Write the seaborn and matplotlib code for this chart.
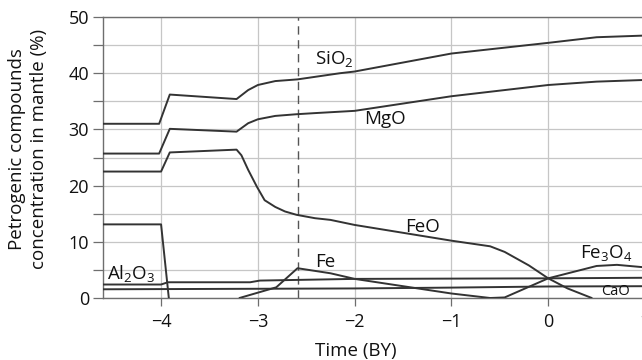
import numpy as np
import pandas as pd
import matplotlib
matplotlib.use("Agg")
import matplotlib.pyplot as plt
import seaborn as sns

# Time axis in billions of years; concentrations in percent
sio2_t = [-4.6, -4.02, -3.91, -3.22, -3.1, -3.0, -2.82, -2.59, -2.15, -2.0, -1.5, -1.0, 0.0, 0.5, 1.0]
sio2_v = [31.0, 31.0, 36.2, 35.4, 37.0, 37.9, 38.6, 38.9, 40.0, 40.3, 41.9, 43.5, 45.4, 46.4, 46.7]

mgo_t = [-4.6, -4.02, -3.91, -3.22, -3.1, -3.0, -2.82, -2.6, -2.41, -2.0, -1.5, -1.0, 0.0, 0.5, 1.0]
mgo_v = [25.7, 25.7, 30.1, 29.6, 31.1, 31.8, 32.4, 32.7, 32.9, 33.3, 34.6, 35.9, 37.9, 38.5, 38.8]

feo_t = [-4.6, -4.0, -3.91, -3.22, -3.17, -3.1, -3.01, -2.93, -2.82, -2.72, -2.6, -2.41,
         -2.25, -2.0, -1.0, -0.6, -0.45, -0.2, 0.0, 0.2, 0.45]
feo_v = [22.5, 22.5, 25.9, 26.4, 25.4, 22.8, 19.8, 17.4, 16.2, 15.4, 14.8, 14.2,
         13.9, 13.0, 10.2, 9.2, 8.2, 5.8, 3.5, 1.7, 0.0]

fe_early_t = [-4.6, -4.0, -3.92]
fe_early_v = [13.1, 13.1, 0.0]

fe_t = [-3.19, -2.81, -2.59, -2.25, -2.0, -1.0, -0.6]
fe_v = [0.0, 1.9, 5.3, 4.4, 3.4, 0.8, 0.0]

fe3o4_t = [-0.6, -0.45, 0.0, 0.5, 0.71, 1.0]
fe3o4_v = [0.0, 0.1, 3.5, 5.7, 5.9, 5.45]

al2o3_t = [-4.6, -4.0, -3.93, -3.08, -2.98, -2.0, -1.0, 0.0, 1.0]
al2o3_v = [2.4, 2.4, 2.8, 2.8, 3.1, 3.4, 3.45, 3.5, 3.6]

cao_t = [-4.6, -2.0, -1.0, 0.0, 1.0]
cao_v = [1.55, 1.7, 1.85, 2.05, 2.1]

series = {
    "SiO2": (sio2_t, sio2_v),
    "MgO": (mgo_t, mgo_v),
    "FeO": (feo_t, feo_v),
    "Fe early": (fe_early_t, fe_early_v),
    "Fe": (fe_t, fe_v),
    "Fe3O4": (fe3o4_t, fe3o4_v),
    "Al2O3": (al2o3_t, al2o3_v),
    "CaO": (cao_t, cao_v),
}

frames = [pd.DataFrame({"time": t, "conc": v, "compound": name})
          for name, (t, v) in series.items()]
df = pd.concat(frames, ignore_index=True)

x_ticks = [-4, -3, -2, -1, 0, 1]
y_ticks = [0, 10, 20, 30, 40, 50]
boundary_time = -2.59

sns.set_theme(style="white")
plt.rcParams["font.family"] = ["Open Sans", "DejaVu Sans"]
plt.rcParams["mathtext.fontset"] = "custom"
plt.rcParams["mathtext.rm"] = "Open Sans"

line_col = "#333333"
grid_col = "#c6c6c6"
frame_col = "#6e6e6e"

fig = plt.figure(figsize=(6.42, 3.6), dpi=100)
ax = fig.add_axes([103 / 642, 1 - 298 / 360, 542 / 642, 281 / 360])

sns.lineplot(data=df, x="time", y="conc", units="compound", estimator=None,
             color=line_col, linewidth=1.4, sort=False, ax=ax, zorder=3)

ax.axvline(boundary_time, color="#555555", linewidth=1.0, dashes=(6, 4), zorder=2)

ax.set_xlim(-4.6, 1.0)
ax.set_ylim(0, 50)
ax.set_xticks(x_ticks)
ax.set_xticklabels([f"{v}".replace("-", "\u2212") for v in x_ticks])
ax.set_yticks(y_ticks)
ax.set_yticks(np.arange(5, 50, 10), minor=True)
ax.grid(True, which="both", color=grid_col, linewidth=0.9, zorder=0)
ax.set_axisbelow(True)

ax.tick_params(axis="x", which="major", direction="out", length=6, width=0.9,
               color=frame_col, pad=5, labelsize=13, labelcolor="#111111", bottom=True)
ax.tick_params(axis="y", which="both", direction="out", length=7, width=0.9,
               color=frame_col, pad=3, labelsize=13, labelcolor="#111111", left=True)

for side in ["left", "top", "bottom"]:
    ax.spines[side].set_color(frame_col)
    ax.spines[side].set_linewidth(1.0)
ax.spines["right"].set_visible(False)

ax.set_xlabel("")
ax.set_ylabel("")

fig.text(356 / 642, 1 - 351 / 360, "Time (BY)", ha="center", va="center",
         fontsize=13.5, color="#111111")
fig.text(28 / 642, 1 - 149 / 360, "Petrogenic compounds\nconcentration in mantle (%)",
         rotation=90, ha="center", va="center", multialignment="center",
         fontsize=13.5, color="#111111", linespacing=1.3)

lab = dict(fontsize=13.5, color="#111111", va="baseline", ha="left", zorder=4)
ax.text(-2.41, 41.5, r"SiO$_\mathregular{2}$", **lab)
ax.text(-1.90, 31.0, "MgO", **lab)
ax.text(-1.48, 11.8, "FeO", **lab)
ax.text(-2.41, 5.6, "Fe", **lab)
ax.text(0.33, 7.05, r"Fe$_\mathregular{3}$O$_\mathregular{4}$", **lab)
ax.text(-4.56, 3.3, r"Al$_\mathregular{2}$O$_\mathregular{3}$", **lab)
ax.text(0.55, 0.55, "CaO", fontsize=10.5, color="#111111", va="baseline", ha="left", zorder=4)

fig.savefig("out.png", dpi=100)
